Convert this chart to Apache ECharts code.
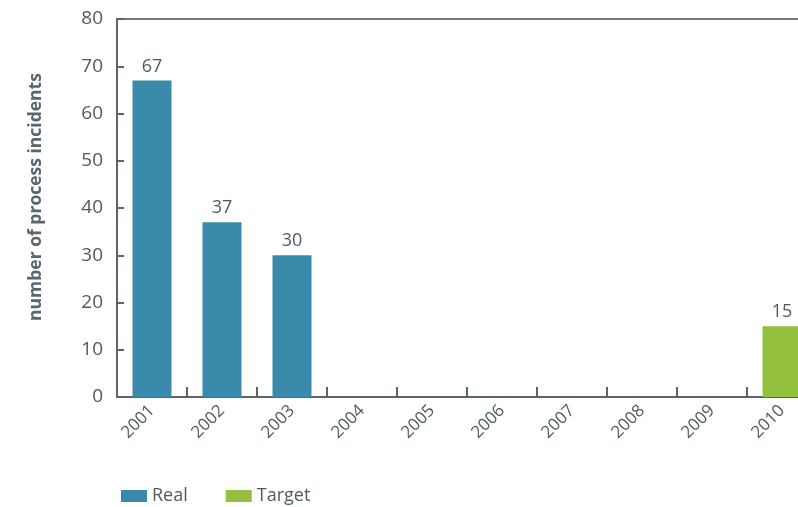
<!DOCTYPE html>
<html>
<head>
<meta charset="utf-8">
<script src="https://cdn.jsdelivr.net/npm/echarts@6/dist/echarts.min.js"></script>
<style>
  html, body { margin: 0; padding: 0; background: #ffffff; }
  #chart { width: 798px; height: 507px; }
</style>
</head>
<body>
<div id="chart"></div>
<script>
// Process incidents per year, actual vs. target
const years = ['2001', '2002', '2003', '2004', '2005', '2006', '2007', '2008', '2009', '2010'];
const realValues = [67, 37, 30, null, null, null, null, null, null, null];
const targetValues = [null, null, null, null, null, null, null, null, null, 15];
const yTicks = { min: 0, max: 80, interval: 10 };

const textColor = '#4e5a62';
const axisColor = '#5a666d';
const fontFamily = '"Open Sans", "Noto Sans", sans-serif';

const chart = echarts.init(document.getElementById('chart'), null, { renderer: 'canvas' });

const labelStyle = {
  show: true,
  position: 'top',
  color: textColor,
  fontSize: 18,
  fontFamily: fontFamily,
  distance: 5
};

chart.setOption({
  animation: false,
  backgroundColor: '#ffffff',
  textStyle: { fontFamily: fontFamily },
  grid: {
    left: 117,
    width: 700,
    top: 19,
    height: 378,
    outerBoundsMode: 'none',
    containLabel: false,
    show: true,
    borderColor: '#6f7b81',
    borderWidth: 2,
    backgroundColor: 'transparent'
  },
  legend: {
    left: 116,
    top: 482,
    itemWidth: 26,
    itemHeight: 12,
    itemGap: 38,
    icon: 'rect',
    textStyle: { color: textColor, fontSize: 18, fontFamily: fontFamily },
    data: ['Real', 'Target']
  },
  xAxis: {
    type: 'category',
    data: years,
    axisLine: { show: true, lineStyle: { color: axisColor, width: 2 } },
    axisTick: { show: true, inside: true, length: 10, lineStyle: { color: axisColor, width: 2 } },
    axisLabel: {
      rotate: 45,
      margin: 11,
      color: textColor,
      fontSize: 17,
      fontFamily: fontFamily,
      interval: 0
    },
    splitLine: { show: false }
  },
  yAxis: {
    type: 'value',
    min: yTicks.min,
    max: yTicks.max,
    interval: yTicks.interval,
    name: 'number of process incidents',
    nameLocation: 'middle',
    nameGap: 72,
    nameTextStyle: {
      color: axisColor,
      fontSize: 17.5,
      fontWeight: 'bold',
      fontFamily: fontFamily,
      padding: [0, 0, 0, 22]
    },
    axisLine: { show: true, lineStyle: { color: axisColor, width: 2 } },
    axisTick: { show: true, inside: true, length: 7, lineStyle: { color: axisColor, width: 2 } },
    axisLabel: { color: textColor, fontSize: 19, fontFamily: fontFamily, margin: 14 },
    splitLine: { show: false }
  },
  series: [
    {
      name: 'Real',
      type: 'bar',
      stack: 'incidents',
      barWidth: 39,
      data: realValues,
      itemStyle: { color: '#3a8aab' },
      label: labelStyle
    },
    {
      name: 'Target',
      type: 'bar',
      stack: 'incidents',
      barWidth: 39,
      data: targetValues,
      itemStyle: { color: '#93c13e' },
      label: labelStyle
    }
  ]
});
</script>
</body>
</html>
